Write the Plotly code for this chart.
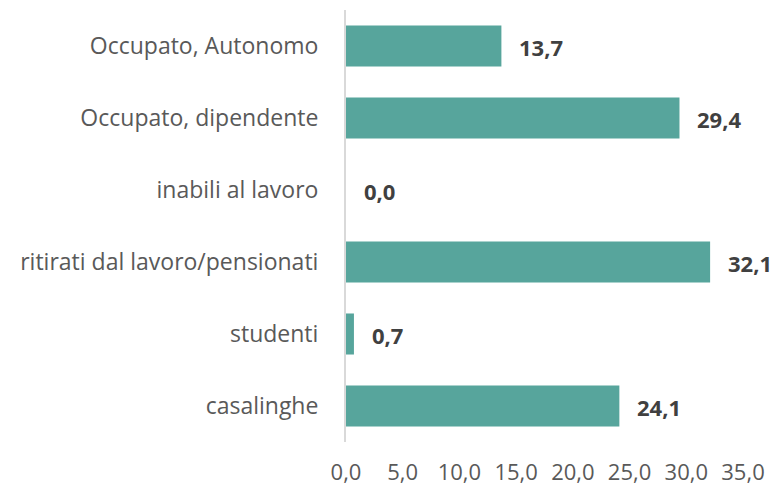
import plotly.graph_objects as go

categories = ["Occupato, Autonomo", "Occupato, dipendente", "inabili al lavoro",
              "ritirati dal lavoro/pensionati", "studenti", "casalinghe"]
values = [13.7, 29.4, 0.0, 32.1, 0.7, 24.1]
tick_vals = [0, 5, 10, 15, 20, 25, 30, 35]
tick_text = ["0,0", "5,0", "10,0", "15,0", "20,0", "25,0", "30,0", "35,0"]

FONT = "Open Sans"

def fmt(v):
    return f"{v:.1f}".replace(".", ",")

fig = go.Figure()
fig.add_trace(go.Bar(
    y=categories, x=values, orientation="h",
    marker=dict(color="#57A59C", line=dict(width=0)),
    hoverinfo="skip",
))
for c, v in zip(categories, values):
    fig.add_annotation(x=v, y=c, text="<b>" + fmt(v) + "</b>", showarrow=False,
                       xanchor="left", xshift=16, yshift=-1,
                       font=dict(family=FONT, size=22, color="#404040"))

fig.update_layout(
    width=776, height=490,
    margin=dict(l=346, r=33, t=10, b=48),
    paper_bgcolor="white", plot_bgcolor="white",
    bargap=0.43, showlegend=False,
    font=dict(family=FONT, size=23, color="#595959"),
)
fig.update_xaxes(range=[0, 35], tickvals=tick_vals, ticktext=tick_text,
                 showgrid=False, zeroline=False, showline=False,
                 ticks="", ticklabelstandoff=15, automargin=False,
                 tickfont=dict(family=FONT, size=22, color="#595959"))
fig.update_yaxes(categoryorder="array", categoryarray=categories[::-1],
                 showgrid=False, zeroline=False, showline=True,
                 linecolor="#D9D9D9", linewidth=2, ticks="",
                 ticklabelstandoff=21, automargin=False,
                 tickfont=dict(family=FONT, size=23, color="#595959"))

fig.write_html("out.html", config={"displayModeBar": False},
               post_script="document.body.style.margin='0px';")
